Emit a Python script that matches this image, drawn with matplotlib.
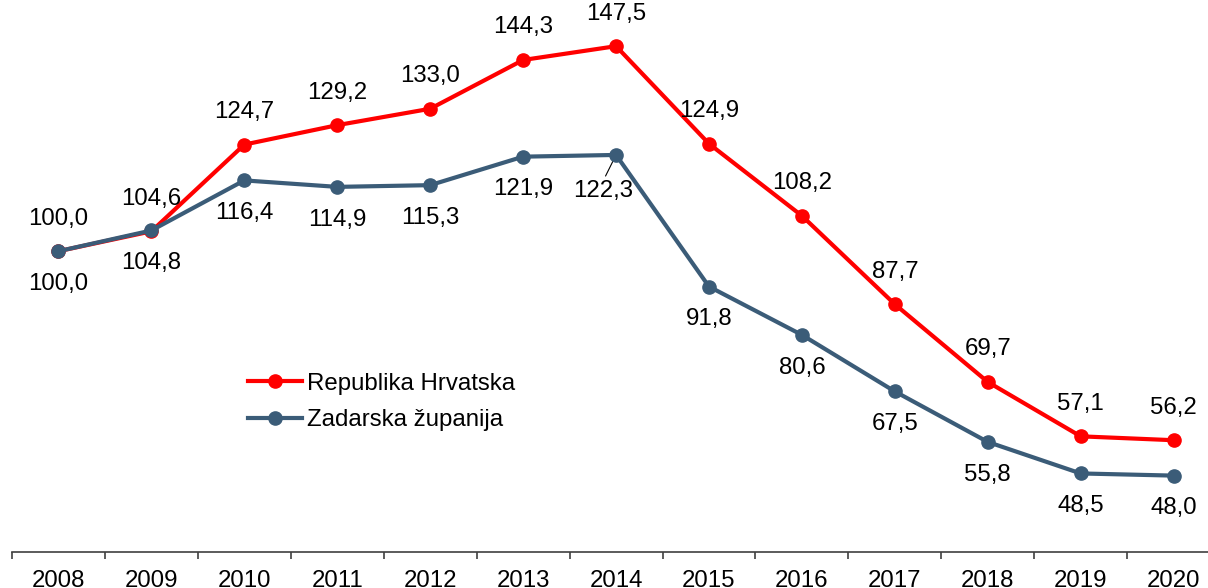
import matplotlib
matplotlib.use("Agg")
import matplotlib.pyplot as plt
import numpy as np

plt.rcParams['font.family'] = ['Liberation Sans', 'DejaVu Sans']

years = ['2008', '2009', '2010', '2011', '2012', '2013', '2014',
         '2015', '2016', '2017', '2018', '2019', '2020']
rh = [100.0, 104.6, 124.7, 129.2, 133.0, 144.3, 147.5, 124.9, 108.2, 87.7, 69.7, 57.1, 56.2]
zz = [100.0, 104.8, 116.4, 114.9, 115.3, 121.9, 122.3, 91.8, 80.6, 67.5, 55.8, 48.5, 48.0]
labels = ['Republika Hrvatska', 'Zadarska županija']

RED = '#FF0000'
BLUE = '#3B5C78'

W, H = 1208, 588
fig = plt.figure(figsize=(W / 100, H / 100), dpi=100)
ax = fig.add_axes([12 / W, (H - 552) / H, 1 - 12 / W, 552 / H])

x = np.arange(len(years))
ax.plot(x, rh, color=RED, lw=3, marker='o', ms=9.5, label=labels[0], zorder=3)
ax.plot(x, zz, color=BLUE, lw=3, marker='o', ms=9.5, label=labels[1], zorder=4)

fs = 17.3
off = 23.5  # points
for i, v in enumerate(rh):
    ax.annotate(f"{v:.1f}".replace('.', ','), (i, v), xytext=(0, off),
                textcoords='offset points', ha='center', va='center', fontsize=fs)
for i, v in enumerate(zz):
    if years[i] == '2014':
        ax.annotate(f"{v:.1f}".replace('.', ','), (i, v), xytext=(-9, -26),
                    textcoords='offset points', ha='center', va='center', fontsize=fs,
                    arrowprops=dict(arrowstyle='-', color='black', lw=0.8,
                                    shrinkA=1, shrinkB=0,
                                    relpos=(0.5, 1.0)))
    else:
        ax.annotate(f"{v:.1f}".replace('.', ','), (i, v), xytext=(0, -off),
                    textcoords='offset points', ha='center', va='center', fontsize=fs)

for s in ['top', 'right', 'left']:
    ax.spines[s].set_visible(False)
ax.spines['bottom'].set_color('#404040')
ax.spines['bottom'].set_linewidth(1.2)
ax.set_yticks([])
ax.set_xticks(x)
ax.set_xticklabels(years, fontsize=fs)
ax.set_xticks(np.arange(-0.5, 12.0, 1), minor=True)
ax.tick_params(axis='x', which='major', length=0, pad=13)
ax.tick_params(axis='x', which='minor', length=5, width=1.2, color='#404040', direction='out')

ax.set_xlim(-0.5, 12.37)
ax.set_ylim(30.3, 158.2)

fig.legend(loc='center left', bbox_to_anchor=(248 / W, 1 - 402 / H), frameon=False,
           fontsize=fs, handlelength=2.25, handletextpad=0.2, labelspacing=0.6,
           borderpad=0, borderaxespad=0)

fig.savefig('out.png', dpi=100)
